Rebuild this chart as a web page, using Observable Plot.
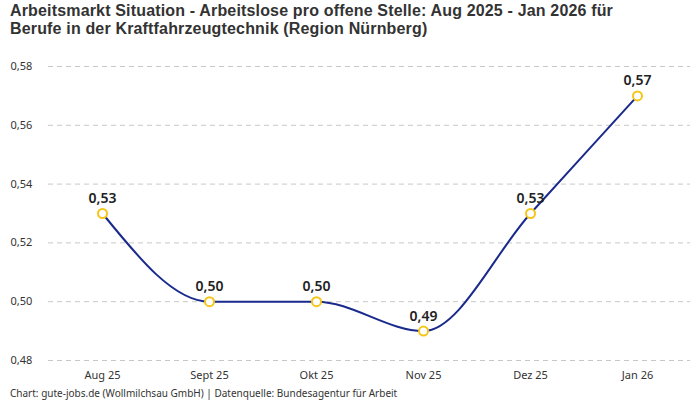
<!DOCTYPE html>
<html>
<head>
<meta charset="utf-8">
<script src="https://cdn.jsdelivr.net/npm/d3@7"></script>
<script src="https://cdn.jsdelivr.net/npm/@observablehq/plot@0.6"></script>
<style>
  body { margin: 0; background: #fff; font-family: "Noto Sans", Roboto, sans-serif; }
  .title { position: absolute; left: 10px; font-family: "Liberation Sans", Arial, sans-serif; font-size: 16px; font-weight: bold; line-height: 18px; color: #333; white-space: nowrap; }
  #t1 { top: 2px; }
  #t2 { top: 20px; }
  #chart { position: absolute; left: 0; top: 40px; }
  #caption { position: absolute; left: 10px; top: 386px; font-size: 10px; color: #333; }
</style>
</head>
<body>
<div class="title" id="t1">Arbeitsmarkt Situation - Arbeitslose pro offene Stelle: Aug 2025 - Jan 2026 für</div>
<div class="title" id="t2">Berufe in der Kraftfahrzeugtechnik (Region Nürnberg)</div>
<div id="chart"></div>
<div id="caption">Chart: gute-jobs.de (Wollmilchsau GmbH) | Datenquelle: Bundesagentur für Arbeit</div>
<script>
const months = ["Aug 25", "Sept 25", "Okt 25", "Nov 25", "Dez 25", "Jan 26"];
const values = [0.53, 0.50, 0.50, 0.49, 0.53, 0.57];
const yTicks = [0.48, 0.50, 0.52, 0.54, 0.56, 0.58];

// fit title's first line to the reference width
(function fitTitle() {
  const t1 = document.getElementById("t1");
  const t2 = document.getElementById("t2");
  const target = 603;
  const w = t1.getBoundingClientRect().width;
  const n = t1.textContent.length;
  const ls = (target - w) / n;
  t1.style.letterSpacing = ls + "px";
  t2.style.letterSpacing = ls + "px";
})();

const data = months.map((m, i) => ({month: m, value: values[i]}));
const fmt = v => d3.format(".2f")(v).replace(".", ",");

const plot = Plot.plot({
  width: 700,
  height: 345,
  marginTop: 26,
  marginBottom: 25,
  marginLeft: 48,
  marginRight: 10,
  style: {fontFamily: "'Noto Sans', Roboto, sans-serif", fontSize: "11px", color: "#333"},
  x: {type: "point", domain: months, padding: 0.5, label: null},
  y: {domain: [0.48, 0.58], label: null},
  marks: [
    Plot.ruleY(yTicks, {stroke: "#c8c8c8", strokeDasharray: "5,4", strokeWidth: 1}),
    Plot.axisY({ticks: yTicks, tickSize: 0, tickPadding: 38, textAnchor: "start", tickFormat: fmt, label: null, fontSize: 11}),
    Plot.axisX({tickSize: 0, tickPadding: 11, label: null, fontSize: 11}),
    Plot.line(data, {x: "month", y: "value", stroke: "#1a2a8c", strokeWidth: 2, curve: "monotone-x"}),
    Plot.dot(data, {x: "month", y: "value", r: 4.5, stroke: "#f5c518", fill: "#fff", strokeWidth: 2}),
    Plot.text(data, {x: "month", y: "value", text: d => fmt(d.value), dy: -15, fontSize: 14, fontWeight: 600, fill: "#222"})
  ]
});
document.getElementById("chart").appendChild(plot);
</script>
</body>
</html>
